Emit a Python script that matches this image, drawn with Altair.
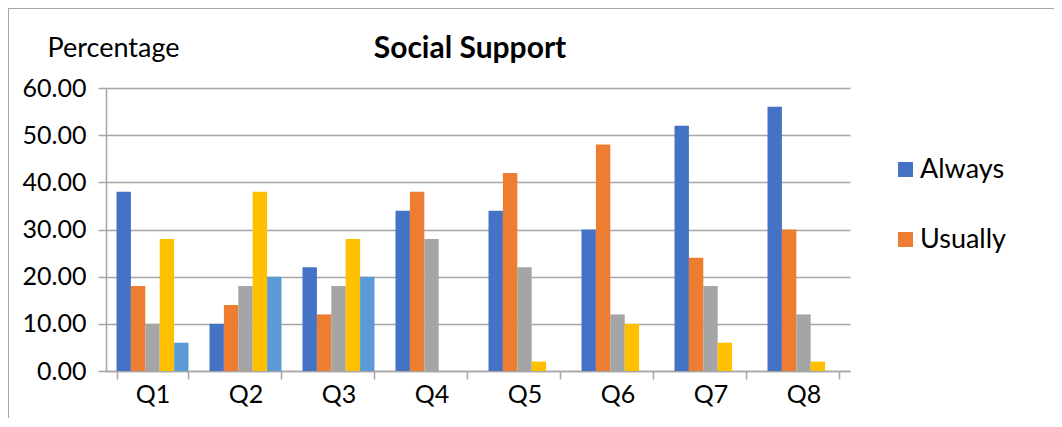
import altair as alt
import pandas as pd

quarters = ["Q1", "Q2", "Q3", "Q4", "Q5", "Q6", "Q7", "Q8"]
series_names = ["Always", "Usually", "Sometimes", "Rarely", "Never"]
always = [38, 10, 22, 34, 34, 30, 52, 56]
usually = [18, 14, 12, 38, 42, 48, 24, 30]
sometimes = [10, 18, 18, 28, 22, 12, 18, 12]
rarely = [28, 38, 28, 0, 2, 10, 6, 2]
never = [6, 20, 20, 0, 0, 0, 0, 0]
colors = ["#4472C4", "#ED7D31", "#A5A5A5", "#FFC000", "#5B9BD5"]
legend_values = ["Always", "Usually"]

rows = []
for name, vals in zip(series_names, [always, usually, sometimes, rarely, never]):
    for q, v in zip(quarters, vals):
        rows.append({"Question": q, "Series": name, "Value": v})
df = pd.DataFrame(rows)

FONT = "Lato"
GRAY = "#A6A6A6"

bars = alt.Chart(df).mark_bar().encode(
    x=alt.X("Question:N", sort=quarters,
            scale=alt.Scale(paddingInner=0.226, paddingOuter=0.113),
            axis=alt.Axis(title=None, labelAngle=0, labelFont=FONT, labelFontSize=25,
                          labelColor="#000000", labelPadding=3, tickSize=8,
                          tickColor=GRAY, domainColor=GRAY, tickWidth=1.5, domainWidth=1.5,
                          tickBand="extent", grid=False)),
    xOffset=alt.XOffset("Series:N", sort=series_names,
                        scale=alt.Scale(domain=series_names, paddingInner=0, paddingOuter=0)),
    y=alt.Y("Value:Q",
            scale=alt.Scale(domain=[0, 60], nice=False),
            axis=alt.Axis(values=[0, 10, 20, 30, 40, 50, 60], format=".2f",
                          labelFont=FONT, labelFontSize=25, labelColor="#000000",
                          labelPadding=12, tickSize=8, tickColor=GRAY, tickWidth=1.5,
                          domainColor=GRAY, domainWidth=1.5, gridColor=GRAY, gridWidth=1.5,
                          title="Percentage", titleAngle=0, titleAlign="left",
                          titleBaseline="middle", titleX=-59, titleY=-40,
                          titleFont=FONT, titleFontSize=27, titleFontWeight="normal",
                          titleColor="#000000")),
    color=alt.Color("Series:N", sort=series_names,
                    scale=alt.Scale(domain=series_names, range=colors),
                    legend=alt.Legend(title=None, values=legend_values, orient="none",
                                      legendX=786, legendY=68, symbolType="square",
                                      symbolSize=225, symbolStrokeWidth=0,
                                      labelFont=FONT, labelFontSize=27, labelColor="#000000",
                                      rowPadding=42, labelOffset=1)),
)

border = alt.Chart(pd.DataFrame({"k": [0]})).mark_rule(color=GRAY, strokeWidth=2).encode(
    x=alt.value(-98), x2=alt.value(950), y=alt.value(-80), y2=alt.value(-80))
border_left = alt.Chart(pd.DataFrame({"k": [0]})).mark_rule(color=GRAY, strokeWidth=2).encode(
    x=alt.value(-98), x2=alt.value(-98), y=alt.value(-80), y2=alt.value(345))

chart = alt.layer(border, border_left, bars).properties(
    width=744, height=283,
    title=alt.TitleParams("Social Support", font=FONT, fontSize=30, fontWeight="bold",
                          color="#000000", anchor="middle", dx=-8, dy=61),
    padding={"left": 98, "top": 80, "right": 204, "bottom": 47},
    autosize=alt.AutoSizeParams(type="none"),
).configure_view(stroke=None)

chart.save("out.html", embed_options={"renderer": "svg", "actions": False})
